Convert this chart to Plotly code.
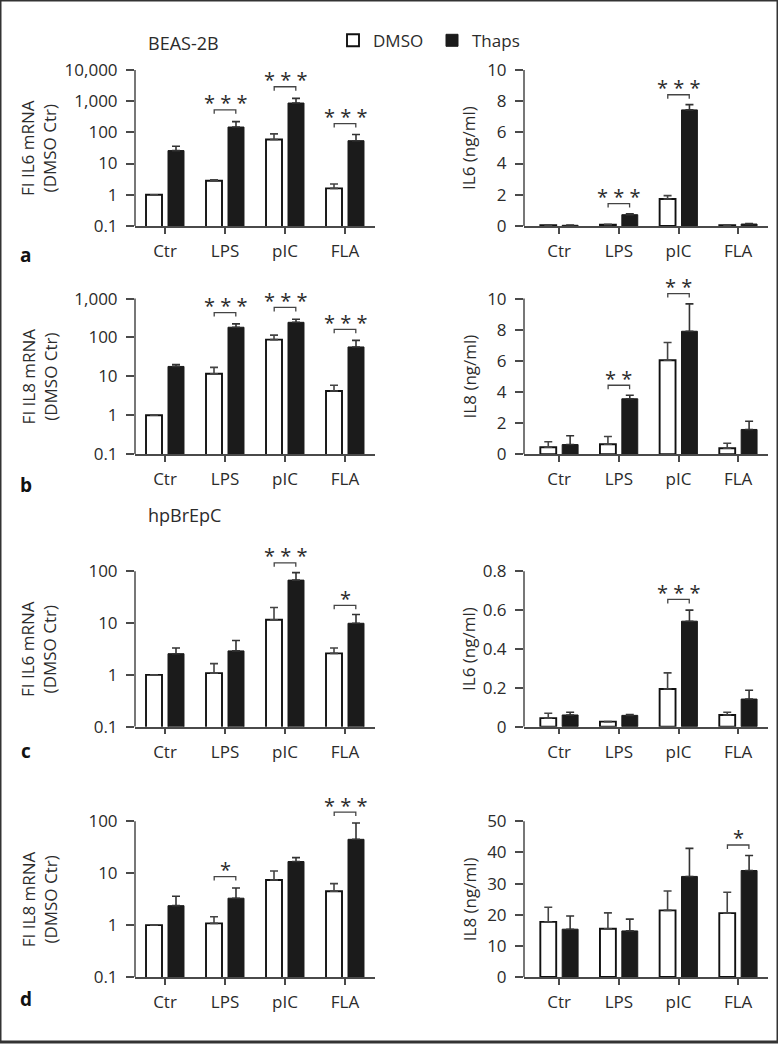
import plotly.graph_objects as go
import math

# ---------------- data ----------------
categories = ["Ctr", "LPS", "pIC", "FLA"]
series_names = ["DMSO", "Thaps"]

# a: BEAS-2B, IL6
a_mrna_dmso = [1.0, 2.8, 59, 1.6]
a_mrna_dmso_err = [0, 0.2, 30, 0.6]
a_mrna_thaps = [26, 148, 870, 54]
a_mrna_thaps_err = [10, 72, 360, 31]
a_prot_dmso = [0.05, 0.08, 1.73, 0.05]
a_prot_dmso_err = [0.02, 0.03, 0.21, 0.02]
a_prot_thaps = [0.04, 0.72, 7.44, 0.12]
a_prot_thaps_err = [0.02, 0.05, 0.34, 0.03]

# b: BEAS-2B, IL8
b_mrna_dmso = [1.0, 11.7, 88, 4.2]
b_mrna_dmso_err = [0, 5.3, 27, 1.7]
b_mrna_thaps = [18, 183, 245, 57]
b_mrna_thaps_err = [2, 41, 50, 27]
b_prot_dmso = [0.45, 0.64, 6.04, 0.38]
b_prot_dmso_err = [0.35, 0.5, 1.14, 0.32]
b_prot_thaps = [0.62, 3.56, 7.9, 1.59]
b_prot_thaps_err = [0.57, 0.23, 1.76, 0.53]

# c: hpBrEpC, IL6
c_mrna_dmso = [1.0, 1.08, 11.6, 2.6]
c_mrna_dmso_err = [0, 0.57, 8.4, 0.7]
c_mrna_thaps = [2.56, 2.9, 67.5, 9.9]
c_mrna_thaps_err = [0.74, 1.7, 26.5, 4.7]
c_prot_dmso = [0.044, 0.026, 0.194, 0.06]
c_prot_dmso_err = [0.025, 0, 0.083, 0.014]
c_prot_thaps = [0.06, 0.058, 0.543, 0.142]
c_prot_thaps_err = [0.014, 0.004, 0.057, 0.045]

# d: hpBrEpC, IL8
d_mrna_dmso = [1.0, 1.08, 7.4, 4.5]
d_mrna_dmso_err = [0, 0.37, 3.6, 1.8]
d_mrna_thaps = [2.37, 3.3, 16.8, 45]
d_mrna_thaps_err = [1.23, 1.9, 3.2, 48]
d_prot_dmso = [17.7, 15.5, 21.4, 20.5]
d_prot_dmso_err = [4.7, 5.1, 6.2, 6.7]
d_prot_thaps = [15.35, 14.8, 32.3, 34.2]
d_prot_thaps_err = [4.25, 3.8, 9.0, 4.8]

log_ticks_a = [0.1, 1, 10, 100, 1000, 10000]
log_ticktext_a = ["0.1", "1", "10", "100", "1,000", "10,000"]
log_ticks_b = [0.1, 1, 10, 100, 1000]
log_ticktext_b = ["0.1", "1", "10", "100", "1,000"]
log_ticks_cd = [0.1, 1, 10, 100]
log_ticktext_cd = ["0.1", "1", "10", "100"]
lin_ticks_10 = [0, 2, 4, 6, 8, 10]
lin_ticks_08 = [0, 0.2, 0.4, 0.6, 0.8]
lin_ticks_50 = [0, 10, 20, 30, 40, 50]

# significance brackets: (category index, bracket height, stars)
sig_a_mrna = [(1, 525, "* * *"), (2, 2900, "* * *"), (3, 190, "* * *")]
sig_a_prot = [(1, 1.43, "* * *"), (2, 8.41, "* * *")]
sig_b_mrna = [(1, 436, "* * *"), (2, 590, "* * *"), (3, 162, "* * *")]
sig_b_prot = [(1, 4.43, "* *"), (2, 10.32, "* *")]
sig_c_mrna = [(2, 145, "* * *"), (3, 22, "*")]
sig_c_prot = [(2, 0.655, "* * *")]
sig_d_mrna = [(1, 8.6, "*"), (3, 151, "* * *")]
sig_d_prot = [(3, 42.4, "*")]

# ---------------- layout geometry ----------------
W, H = 778, 1053
FONT = "Open Sans"
TXT = "#2b2b2b"
AX = "#4a4a4a"
EXT = 45  # extra px of plotting room above each axis top (for brackets)

left_x = (135, 375)
right_x = (524, 768)
rows_y = [(70.7, 228.3), (301.7, 459), (577.3, 734.3), (830, 987.3)]

def xdom(px):
    return [px[0] / W, px[1] / W]

def ydom(top, bottom):
    return [1 - bottom / H, 1 - top / H]

panels = [
    dict(row=0, side="L", log=True, rng=[-1, 4], tv=log_ticks_a, tt=log_ticktext_a,
         dm=a_mrna_dmso, dme=a_mrna_dmso_err, th=a_mrna_thaps, the=a_mrna_thaps_err,
         title="FI IL6 mRNA<br>(DMSO Ctr)", sig=sig_a_mrna),
    dict(row=0, side="R", log=False, rng=[0, 10], tv=lin_ticks_10, tt=[str(v) for v in lin_ticks_10],
         dm=a_prot_dmso, dme=a_prot_dmso_err, th=a_prot_thaps, the=a_prot_thaps_err,
         title="IL6 (ng/ml)", sig=sig_a_prot),
    dict(row=1, side="L", log=True, rng=[-1, 3], tv=log_ticks_b, tt=log_ticktext_b,
         dm=b_mrna_dmso, dme=b_mrna_dmso_err, th=b_mrna_thaps, the=b_mrna_thaps_err,
         title="FI IL8 mRNA<br>(DMSO Ctr)", sig=sig_b_mrna),
    dict(row=1, side="R", log=False, rng=[0, 10], tv=lin_ticks_10, tt=[str(v) for v in lin_ticks_10],
         dm=b_prot_dmso, dme=b_prot_dmso_err, th=b_prot_thaps, the=b_prot_thaps_err,
         title="IL8 (ng/ml)", sig=sig_b_prot),
    dict(row=2, side="L", log=True, rng=[-1, 2], tv=log_ticks_cd, tt=log_ticktext_cd,
         dm=c_mrna_dmso, dme=c_mrna_dmso_err, th=c_mrna_thaps, the=c_mrna_thaps_err,
         title="FI IL6 mRNA<br>(DMSO Ctr)", sig=sig_c_mrna),
    dict(row=2, side="R", log=False, rng=[0, 0.8], tv=lin_ticks_08, tt=["0", "0.2", "0.4", "0.6", "0.8"],
         dm=c_prot_dmso, dme=c_prot_dmso_err, th=c_prot_thaps, the=c_prot_thaps_err,
         title="IL6 (ng/ml)", sig=sig_c_prot),
    dict(row=3, side="L", log=True, rng=[-1, 2], tv=log_ticks_cd, tt=log_ticktext_cd,
         dm=d_mrna_dmso, dme=d_mrna_dmso_err, th=d_mrna_thaps, the=d_mrna_thaps_err,
         title="FI IL8 mRNA<br>(DMSO Ctr)", sig=sig_d_mrna),
    dict(row=3, side="R", log=False, rng=[0, 50], tv=lin_ticks_50, tt=[str(v) for v in lin_ticks_50],
         dm=d_prot_dmso, dme=d_prot_dmso_err, th=d_prot_thaps, the=d_prot_thaps_err,
         title="IL8 (ng/ml)", sig=sig_d_prot),
]

fig = go.Figure()
layout = {}
annotations = []
shapes = []
xpos = list(range(len(categories)))
half = 0.18
leg_px = 4
STAR_SHIFT = 7
FS = 17

for i, p in enumerate(panels, start=1):
    xa = "x" if i == 1 else f"x{i}"
    ya = "y" if i == 1 else f"y{i}"
    xpx = left_x if p["side"] == "L" else right_x
    top, bottom = rows_y[p["row"]]
    xr = [-0.5, 3.5] if p["side"] == "L" else [-0.59, 3.5]

    span = p["rng"][1] - p["rng"][0]
    per_px = span / (bottom - top)
    ext_rng = [p["rng"][0], p["rng"][1] + EXT * per_px]

    fig.add_trace(go.Bar(
        x=xpos, y=p["dm"], name=series_names[0], xaxis=xa, yaxis=ya,
        marker=dict(color="white", line=dict(color="#111111", width=1.9)),
        error_y=dict(type="data", symmetric=False, array=p["dme"], arrayminus=[0] * 4,
                     color="#444444", thickness=1.6, width=4),
        showlegend=(i == 1), legendgroup="dmso", offsetgroup="a",
    ))
    fig.add_trace(go.Bar(
        x=xpos, y=p["th"], name=series_names[1], xaxis=xa, yaxis=ya,
        marker=dict(color="#1b1b1b", line=dict(color="#1b1b1b", width=1)),
        error_y=dict(type="data", symmetric=False, array=p["the"], arrayminus=[0] * 4,
                     color="#333333", thickness=1.6, width=4),
        showlegend=(i == 1), legendgroup="thaps", offsetgroup="b",
    ))

    for (ci, yb, stars) in p["sig"]:
        if p["log"]:
            ylo = 10 ** (math.log10(yb) - leg_px * per_px)
        else:
            ylo = yb - leg_px * per_px
        fig.add_trace(go.Scatter(
            x=[ci - half, ci - half, ci + half, ci + half],
            y=[ylo, yb, yb, ylo],
            mode="lines",
            line=dict(color="#444444", width=1.3),
            xaxis=xa, yaxis=ya, showlegend=False, hoverinfo="skip", cliponaxis=False,
        ))
        annotations.append(dict(
            text=stars, x=ci, y=(math.log10(yb) if p["log"] else yb), xref=xa, yref=ya,
            showarrow=False, xanchor="center", yanchor="middle", yshift=STAR_SHIFT,
            font=dict(family=FONT, size=20, color=TXT),
        ))

    # y axis line from bottom to top tick
    shapes.append(dict(type="line", xref=f"{xa} domain", yref=ya, x0=0, x1=0,
                       y0=p["tv"][0], y1=p["tv"][-1], line=dict(color=AX, width=1.5)))

    common_font = dict(family=FONT, size=FS, color=TXT)
    layout[("xaxis" if i == 1 else f"xaxis{i}")] = dict(
        domain=xdom(xpx), anchor=ya, range=xr, tickvals=xpos, ticktext=categories,
        showline=True, linecolor=AX, linewidth=1.5, ticks="outside", ticklen=6,
        tickwidth=1.5, tickcolor=AX, tickfont=common_font, showgrid=False, zeroline=False,
        fixedrange=True, ticklabelstandoff=3,
    )
    layout[("yaxis" if i == 1 else f"yaxis{i}")] = dict(
        domain=ydom(top - EXT, bottom), anchor=xa, type="log" if p["log"] else "linear",
        range=ext_rng, tickvals=p["tv"], ticktext=p["tt"],
        showline=False, ticks="outside", ticklen=8,
        tickwidth=1.5, tickcolor=AX, tickfont=common_font, showgrid=False, zeroline=False,
        fixedrange=True, ticklabelstandoff=5,
    )
    # y-axis title
    cy = 1 - (top + bottom) / 2 / H
    tx = 39 if p["side"] == "L" else 469
    annotations.append(dict(
        text=p["title"], x=tx / W, y=cy, xref="paper", yref="paper", textangle=-90,
        showarrow=False, xanchor="center", yanchor="middle",
        font=dict(family=FONT, size=FS, color=TXT),
    ))

# panel letters
letters = ["a", "b", "c", "d"]
letter_y = [258, 490, 759, 1010]
for l, ly in zip(letters, letter_y):
    annotations.append(dict(text=f"<b>{l}</b>", x=26 / W, y=1 - ly / H, xref="paper", yref="paper",
                            showarrow=False, xanchor="center", yanchor="middle",
                            font=dict(family=FONT, size=19, color="#111111")))

# cell-line titles
for t, ty in [("BEAS-2B", 43), ("hpBrEpC", 520)]:
    annotations.append(dict(text=t, x=146 / W, y=1 - ty / H, xref="paper", yref="paper",
                            showarrow=False, xanchor="left", yanchor="middle",
                            font=dict(family=FONT, size=18, color=TXT)))

shapes.append(dict(type="rect", xref="paper", yref="paper", x0=0, y0=0, x1=1, y1=1,
                   line=dict(color="#333333", width=3), fillcolor="rgba(0,0,0,0)"))

fig.update_layout(
    width=W, height=H, margin=dict(l=0, r=0, t=0, b=0),
    paper_bgcolor="white", plot_bgcolor="white",
    barmode="group", bargap=0.267, bargroupgap=0.273,
    showlegend=True,
    legend=dict(orientation="h", x=333 / W, y=1 - 23 / H, xanchor="left", yanchor="top",
                font=dict(family=FONT, size=FS, color=TXT), bgcolor="rgba(0,0,0,0)",
                entrywidth=54, entrywidthmode="pixels", traceorder="normal"),
    annotations=annotations,
    shapes=shapes,
    **layout,
)

post = ("document.body.style.margin='0';document.body.style.overflow='hidden';"
        "var gd=document.getElementById('{plot_id}');gd.style.position='absolute';"
        "gd.style.left='0px';gd.style.top='0px';")
fig.write_html("out.html", post_script=post, config={"displayModeBar": False})
